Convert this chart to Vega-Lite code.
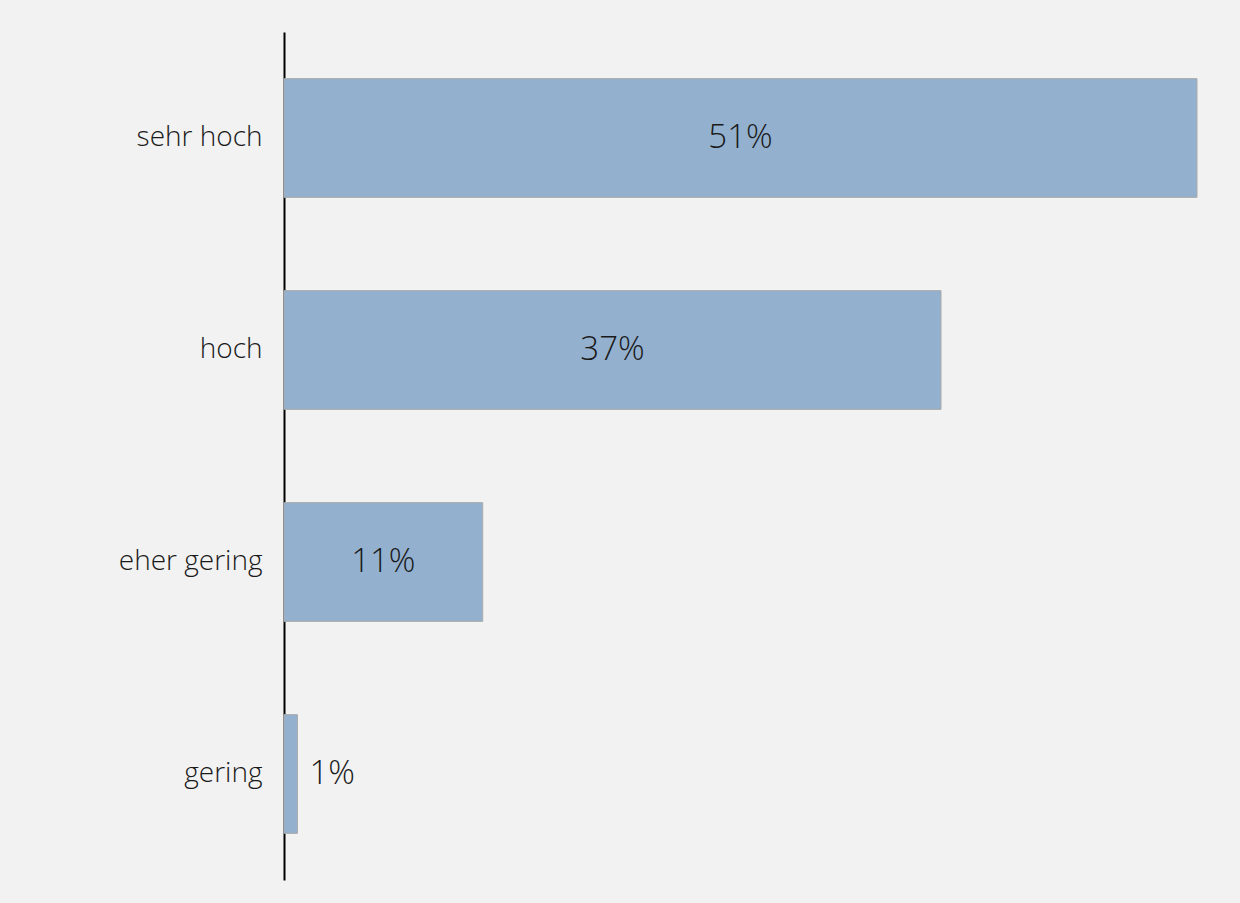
{
  "$schema": "https://vega.github.io/schema/vega-lite/v6.json",
  "autosize": "none",
  "width": 913,
  "height": 848,
  "padding": {"left": 284, "top": 32, "right": 43, "bottom": 23},
  "background": "#f2f2f2",
  "config": {"view": {"stroke": null}, "font": "Open Sans"},
  "data": {"values": [
    {"k": "sehr hoch", "v": 51, "t": "51%"},
    {"k": "hoch", "v": 36.7, "t": "37%"},
    {"k": "eher gering", "v": 11.1, "t": "11%"},
    {"k": "gering", "v": 0.75, "t": "1%"}
  ]},
  "encoding": {
    "y": {"field": "k", "type": "nominal", "sort": null,
      "scale": {"paddingInner": 0.44, "paddingOuter": 0.22},
      "axis": {"title": null, "ticks": false, "domainColor": "#000000", "domainWidth": 2,
        "labelFontSize": 28, "labelFont": "Open Sans", "labelFontWeight": 300, "labelColor": "#1a1a1a", "labelPadding": 22, "labelLimit": 300,
        "labelExpr": "datum.value == 'sehr hoch' ? 'sehr hoch\u2003\u2009' : datum.label"}}
  },
  "layer": [
    {
      "mark": {"type": "bar", "color": "#93b1cf", "stroke": "#aaaaaa", "strokeWidth": 1},
      "encoding": {"x": {"field": "v", "type": "quantitative", "scale": {"domain": [0, 51]}, "axis": null}}
    },
    {
      "transform": [{"filter": "datum.v >= 5"}],
      "mark": {"type": "text", "fontSize": 33, "fontWeight": 300, "color": "#1a1a1a", "align": "center", "baseline": "middle"},
      "encoding": {
        "x": {"field": "v", "type": "quantitative", "scale": {"domain": [0, 102]}, "axis": null},
        "text": {"field": "t"}
      }
    },
    {
      "transform": [{"filter": "datum.v < 5"}],
      "mark": {"type": "text", "fontSize": 33, "fontWeight": 300, "color": "#1a1a1a", "align": "left", "baseline": "middle", "dx": 12},
      "encoding": {
        "x": {"field": "v", "type": "quantitative", "scale": {"domain": [0, 51]}, "axis": null},
        "text": {"field": "t"}
      }
    }
  ],
  "resolve": {"scale": {"x": "independent"}}
}
